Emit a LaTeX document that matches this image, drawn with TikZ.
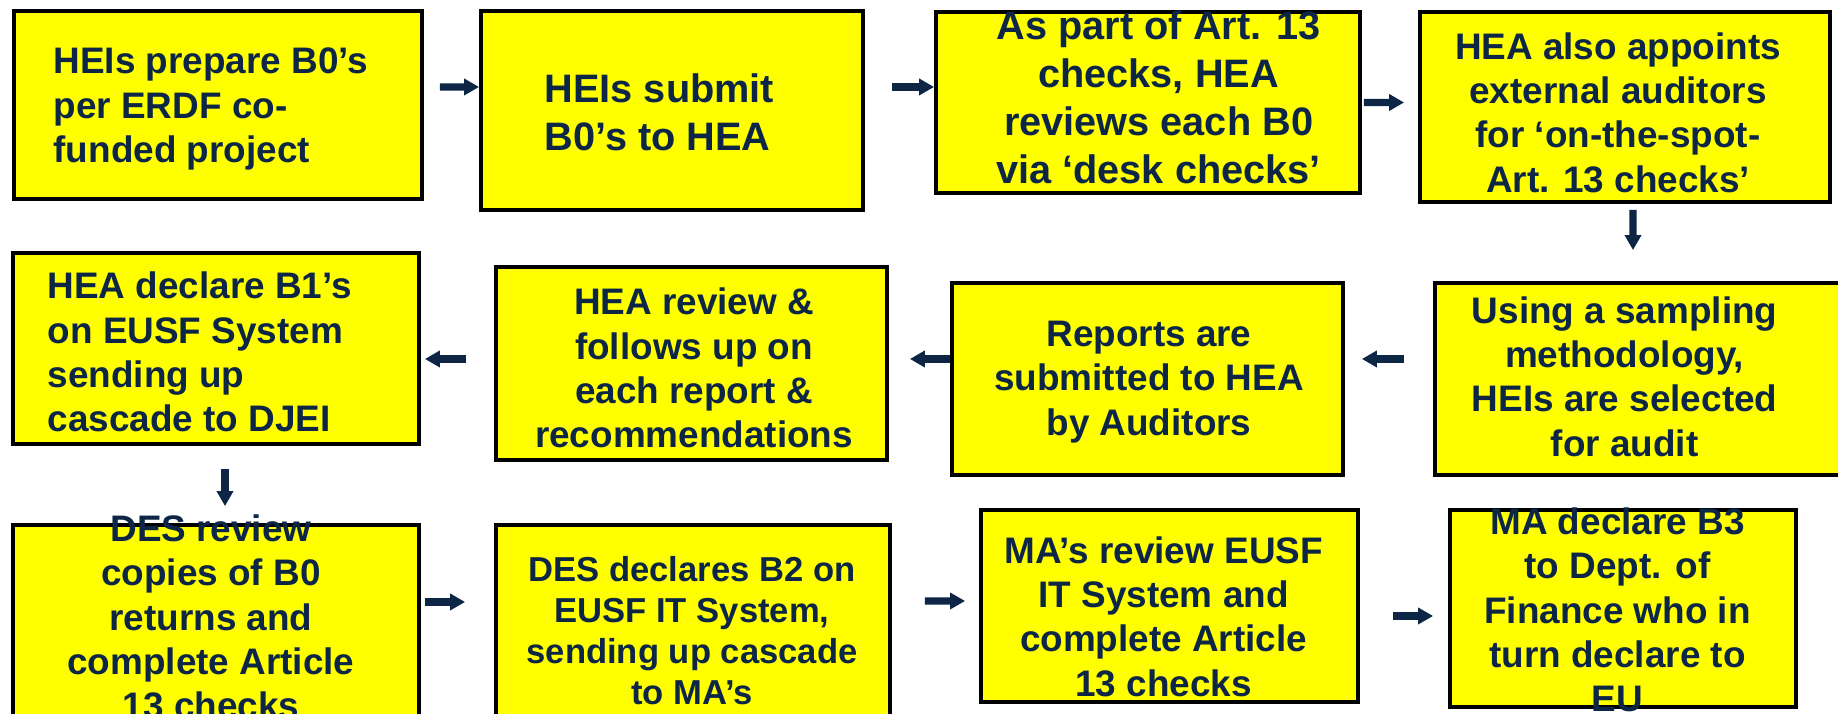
\documentclass[tikz,border=0pt]{standalone}
\usepackage{fontspec}
\setmainfont{Liberation Sans}
\usepackage{tikz}
\usetikzlibrary{arrows.meta,calc}
\definecolor{boxyellow}{HTML}{FFFF00}
\definecolor{textblue}{HTML}{0D2645}
\tikzset{
  box/.style={draw=black, line width=1.1pt, fill=boxyellow, inner sep=0pt},
  txt/.style={font=\fontsize{10.5}{12.6}\selectfont\bfseries, text=textblue, inner sep=0pt},
  arr/.style={textblue, line width=2pt, -{Triangle[length=0.15cm,width=0.16cm]}}
}
\begin{document}
\begin{tikzpicture}
\useasboundingbox (0,0) rectangle (18.38cm,-7.14cm);
% boxes
\node[box, minimum width=4.08cm, minimum height=1.88cm] (1) at (2.18cm,-1.05cm) {};
\node[box, minimum width=3.82cm, minimum height=1.99cm] (2) at (6.72cm,-1.105cm) {};
\node[box, minimum width=4.24cm, minimum height=1.81cm] (3) at (11.48cm,-1.025cm) {};
\node[box, minimum width=4.10cm, minimum height=1.90cm] (4) at (16.25cm,-1.07cm) {};
\node[box, minimum width=4.10cm, minimum height=1.92cm] (5) at (16.40cm,-3.79cm) {};
\node[box, minimum width=3.91cm, minimum height=1.92cm] (6) at (11.475cm,-3.79cm) {};
\node[box, minimum width=3.91cm, minimum height=1.93cm] (7) at (6.915cm,-3.635cm) {};
\node[box, minimum width=4.06cm, minimum height=1.91cm] (8) at (2.16cm,-3.485cm) {};
\node[box, minimum width=4.06cm, minimum height=2.20cm] (9) at (2.16cm,-6.35cm) {};
\node[box, minimum width=3.94cm, minimum height=2.20cm] (10) at (6.93cm,-6.35cm) {};
\node[box, minimum width=3.77cm, minimum height=1.92cm] (11) at (11.695cm,-6.06cm) {};
\node[box, minimum width=3.46cm, minimum height=1.97cm] (12) at (16.23cm,-6.085cm) {};
% texts
\node[txt, anchor=west, align=left] (t1) at (0.53cm,-1.09cm) {HEIs prepare B0’s\\per ERDF co-\\funded project};
\node[txt, anchor=west, align=left, font=\fontsize{11.3}{13.7}\selectfont\bfseries] (t2) at (5.44cm,-1.12cm) {HEIs submit\\B0’s to HEA};
\node[txt, align=center, font=\fontsize{11.3}{13.6}\selectfont\bfseries] (t3) at (11.586cm,-0.975cm) {As part of Art. 13\\checks, HEA\\reviews each B0\\via ‘desk checks’};
\node[txt, align=center] (t4) at (16.18cm,-1.125cm) {HEA also appoints\\external auditors\\for ‘on-the-spot-\\Art. 13 checks’};
\node[txt, align=center] (t5) at (16.246cm,-3.765cm) {Using a sampling\\methodology,\\HEIs are selected\\for audit};
\node[txt, align=center] (t6) at (11.49cm,-3.82cm) {Reports are\\submitted to HEA\\by Auditors};
\node[txt, align=center] (t7) at (6.94cm,-3.68cm) {HEA review \&\\follows up on\\each report \&\\recommendations};
\node[txt, anchor=west, align=left] (t8) at (0.47cm,-3.52cm) {HEA declare B1’s\\on EUSF System\\sending up\\cascade to DJEI};
\node[txt, align=center] (t9) at (2.11cm,-6.17cm) {DES review\\copies of B0\\returns and\\complete Article\\13 checks};
\node[txt, align=center, font=\fontsize{9.85}{11.7}\selectfont\bfseries] (t10) at (6.92cm,-6.305cm) {DES declares B2 on\\EUSF IT System,\\sending up cascade\\to MA’s};
\node[txt, align=center] (t11) at (11.636cm,-6.165cm) {MA’s review EUSF\\IT System and\\complete Article\\13 checks};
\node[txt, align=center] (t12) at (16.175cm,-6.10cm) {MA declare B3\\to Dept. of\\Finance who in\\turn declare to\\EU};
% arrows
\draw[arr] ($(1.east)+(0.16,0.18)$) -- ($(2.west)+(0,0.235)$);
\draw[arr] ($(2.east)+(0.27,0.235)$) -- ($(3.west)+(0,0.155)$);
\draw[arr] ($(3.east)+(0.02,0)$) -- ($(4.west)+(-0.14,0.045)$);
\draw[arr] ($(4.south)+(0.08,-0.06)$) -- ($(5.north)+(-0.07,0.31)$);
\draw[arr] ($(5.west)+(-0.29,0.20)$) -- ($(6.east)+(0.17,0.20)$);
\draw[arr] ($(6.west)+(0,0.20)$) -- ($(7.east)+(0.21,0.045)$);
\draw[arr] ($(7.west)+(-0.28,0.045)$) -- ($(8.east)+(0.04,-0.105)$);
\draw[arr] ($(8.south)+(0.09,-0.23)$) -- ($(9.north)+(0.09,0.17)$);
\draw[arr] ($(9.east)+(0.04,0.33)$) -- ($(10.west)+(-0.29,0.33)$);
\draw[arr] ($(10.east)+(0.33,0.34)$) -- ($(11.west)+(-0.14,0.05)$);
\draw[arr] ($(11.east)+(0.33,-0.10)$) -- ($(12.west)+(-0.15,-0.075)$);
\end{tikzpicture}
\end{document}
